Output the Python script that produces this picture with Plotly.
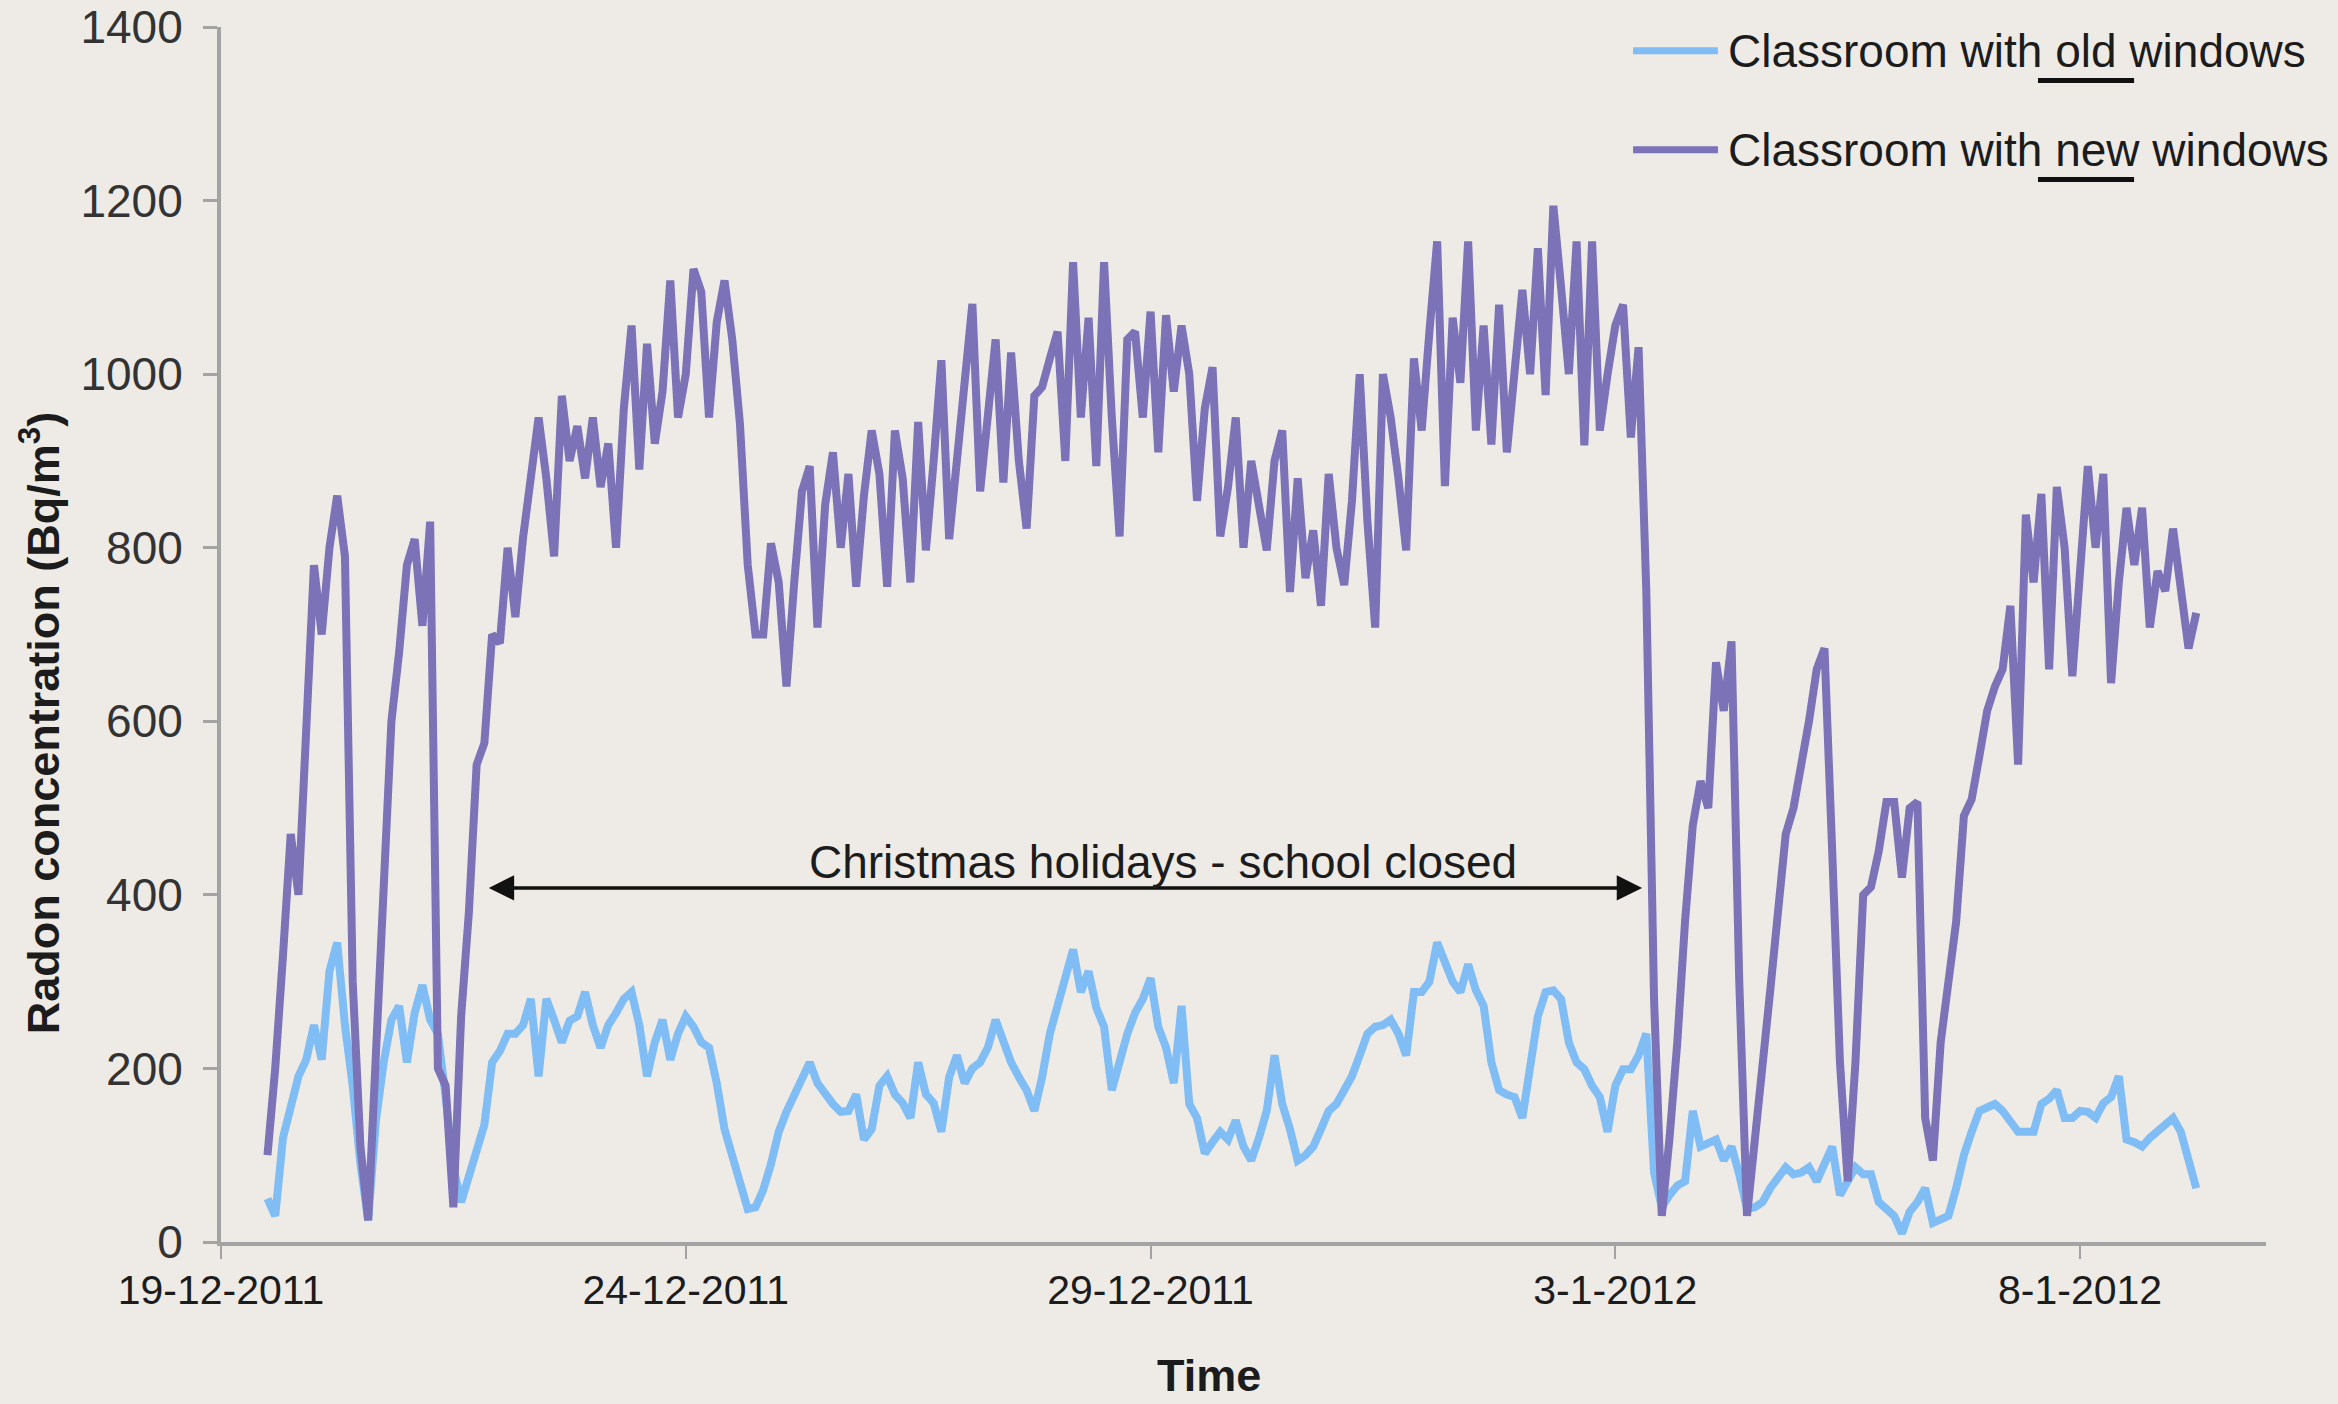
import pandas as pd
import plotly.graph_objects as go

# Radon readings every 2 hours, from 19-12-2011 12:00 to 9-1-2012 06:00 (Bq/m3)
sample_start = "2011-12-19 12:00"
sample_step = "2h"

new_windows = [
    # 19-12 (12:00-22:00)
    100, 200, 330, 470, 400, 615,
    # 20-12
    780, 700, 800, 860, 790, 300, 110, 25, 230, 430, 600, 680,
    # 21-12
    780, 810, 710, 830, 200, 180, 40, 260, 380, 550, 575, 700,
    # 22-12
    690, 800, 720, 812, 880, 950, 880, 790, 975, 900, 940, 880,
    # 23-12
    950, 870, 920, 800, 960, 1056, 890, 1035, 920, 980, 1108, 950,
    # 24-12
    1000, 1121, 1095, 950, 1060, 1108, 1040, 942, 780, 700, 700, 805,
    # 25-12
    760, 640, 760, 865, 894, 708, 850, 910, 800, 885, 755, 860,
    # 26-12
    935, 885, 755, 935, 880, 760, 945, 797, 900, 1016, 810, 900,
    # 27-12
    992, 1081, 865, 960, 1040, 875, 1025, 900, 822, 975, 985, 1018,
    # 28-12
    1049, 900, 1129, 950, 1065, 894, 1129, 950, 813, 1040, 1049, 950,
    # 29-12
    1072, 910, 1068, 980, 1056, 1000, 854, 960, 1008, 813, 870, 950,
    # 30-12
    800, 900, 850, 797, 900, 935, 749, 880, 765, 820, 733, 885,
    # 31-12
    800, 757, 854, 1000, 830, 708, 1000, 950, 880, 797, 1018, 935,
    # 1-1
    1049, 1153, 871, 1065, 990, 1153, 935, 1056, 919, 1080, 910, 1000,
    # 2-1
    1097, 1000, 1145, 976, 1194, 1100, 1000, 1153, 918, 1153, 935, 1000,
    # 3-1
    1056, 1080, 927, 1031, 750, 280, 30, 120, 230, 369, 480, 531,
    # 4-1
    500, 668, 612, 692, 300, 30, 110, 200, 290, 380, 470, 500,
    # 5-1
    547, 600, 660, 684, 450, 207, 70, 207, 400, 409, 450, 507,
    # 6-1
    507, 420, 500, 507, 143, 94, 230, 300, 369, 491, 510, 560,
    # 7-1
    612, 640, 660, 733, 550, 838, 760, 862, 660, 870, 800, 652,
    # 8-1
    780, 894, 800, 885, 644, 760, 846, 780, 846, 708, 773, 750,
    # 9-1 (00:00-06:00)
    822, 760, 684, 725,
]

old_windows = [
    # 19-12 (12:00-22:00)
    50, 30, 120, 155, 191, 210,
    # 20-12
    250, 210, 312, 345, 250, 180, 90, 25, 140, 207, 256, 272,
    # 21-12
    207, 264, 296, 256, 240, 167, 86, 46, 75, 100, 135, 207,
    # 22-12
    220, 240, 240, 250, 280, 191, 280, 256, 230, 255, 260, 288,
    # 23-12
    250, 224, 250, 264, 280, 288, 250, 191, 230, 256, 210, 240,
    # 24-12
    260, 248, 230, 224, 183, 130, 100, 70, 38, 40, 60, 90,
    # 25-12
    127, 150, 170, 191, 207, 183, 170, 159, 150, 151, 170, 118,
    # 26-12
    130, 180, 191, 170, 160, 143, 207, 170, 160, 127, 190, 215,
    # 27-12
    183, 200, 207, 224, 256, 230, 207, 190, 175, 151, 190, 240,
    # 28-12
    272, 300, 337, 288, 312, 270, 248, 175, 210, 240, 264, 280,
    # 29-12
    304, 248, 224, 183, 272, 159, 143, 102, 115, 127, 118, 140,
    # 30-12
    110, 94, 120, 151, 215, 159, 130, 94, 100, 110, 130, 151,
    # 31-12
    159, 175, 191, 215, 240, 248, 250, 256, 240, 215, 288, 288,
    # 1-1
    300, 345, 320, 300, 288, 320, 290, 272, 207, 175, 170, 167,
    # 2-1
    143, 207, 260, 288, 290, 280, 230, 207, 199, 180, 167, 127,
    # 3-1
    180, 199, 199, 215, 240, 80, 40, 54, 65, 70, 151, 110,
    # 4-1
    115, 118, 94, 110, 78, 38, 40, 46, 62, 75, 86, 78,
    # 5-1
    80, 86, 70, 90, 110, 54, 70, 86, 78, 78, 46, 38,
    # 6-1
    30, 10, 35, 46, 62, 22, 26, 30, 62, 100, 127, 151,
    # 7-1
    155, 159, 151, 140, 127, 127, 127, 159, 165, 175, 143, 143,
    # 8-1
    151, 150, 143, 160, 167, 191, 118, 115, 110, 120, 127, 135,
    # 9-1 (00:00-06:00)
    143, 127, 94, 62,
]

series_names = ["Classroom with old windows", "Classroom with new windows"]

tick_dates = ["2011-12-19", "2011-12-24", "2011-12-29", "2012-01-03", "2012-01-08"]
tick_labels = ["19-12-2011", "24-12-2011", "29-12-2011", "3-1-2012", "8-1-2012"]

holiday_start = "2011-12-21 20:45"
holiday_end = "2012-01-03 06:55"
holiday_level = 408
holiday_label = "Christmas holidays - school closed"

times = pd.date_range(sample_start, periods=len(new_windows), freq=sample_step)

BG = "#eeebe7"
OLD_COLOR = "#80bdf5"
NEW_COLOR = "#7b72b8"
AXIS_COLOR = "#a3a3a3"
TEXT_COLOR = "#1c1c1c"
FONT = "Liberation Sans, Arial, sans-serif"

fig = go.Figure()
fig.add_trace(go.Scatter(x=times, y=old_windows, mode="lines", name=series_names[0],
                         line=dict(color=OLD_COLOR, width=8)))
fig.add_trace(go.Scatter(x=times, y=new_windows, mode="lines", name=series_names[1],
                         line=dict(color=NEW_COLOR, width=8)))

annotations = [
    # double-headed arrow spanning the school closure
    dict(x=holiday_end, y=holiday_level, ax=holiday_start, ay=holiday_level,
         xref="x", yref="y", axref="x", ayref="y", text="", showarrow=True,
         arrowside="end+start", arrowhead=2, startarrowhead=2,
         arrowsize=1.45, startarrowsize=1.45, arrowwidth=3.5, arrowcolor="#111111"),
    dict(x="2011-12-29 03:20", y=438, xref="x", yref="y", text=holiday_label,
         showarrow=False, xanchor="center", yanchor="middle",
         font=dict(size=46, color=TEXT_COLOR, family=FONT)),
    # axis titles
    dict(x=-0.0885, y=0.427, xref="paper", yref="paper",
         text="<b>Radon concentration (Bq/m<sup>3</sup>)</b>", textangle=-90,
         showarrow=False, xanchor="center", yanchor="middle",
         font=dict(size=45, color=TEXT_COLOR, family=FONT)),
    dict(x=0.4831, y=-0.110, xref="paper", yref="paper", text="<b>Time</b>",
         showarrow=False, xanchor="center", yanchor="middle",
         font=dict(size=45, color=TEXT_COLOR, family=FONT)),
]

# legend drawn in the top-right corner with sample lines and underlined keywords
legend_rows = [0.9805, 0.8990]
legend_colors = [OLD_COLOR, NEW_COLOR]
shapes = []
for row_y, color, name in zip(legend_rows, legend_colors, series_names):
    shapes.append(dict(type="line", xref="paper", yref="paper", x0=0.6905, x1=0.7320,
                       y0=row_y, y1=row_y, line=dict(color=color, width=7)))
    annotations.append(dict(x=0.7359, y=row_y, xref="paper", yref="paper", text=name,
                            showarrow=False, xanchor="left", yanchor="middle",
                            font=dict(size=46, color=TEXT_COLOR, family=FONT)))
    shapes.append(dict(type="line", xref="paper", yref="paper", x0=0.8885, x1=0.9355,
                       y0=row_y - 0.0245, y1=row_y - 0.0245,
                       line=dict(color="#111111", width=5)))

fig.update_layout(
    width=2338, height=1404,
    margin=dict(l=221, r=72, t=27, b=162),
    paper_bgcolor=BG, plot_bgcolor=BG,
    showlegend=False,
    font=dict(family=FONT, color=TEXT_COLOR),
    annotations=annotations,
    shapes=shapes,
    xaxis=dict(
        type="date", range=["2011-12-19", "2012-01-10"],
        tickvals=tick_dates, ticktext=tick_labels,
        ticks="outside", ticklen=13, tickwidth=2, tickcolor=AXIS_COLOR,
        showline=True, linecolor=AXIS_COLOR, linewidth=4,
        showgrid=False, zeroline=False, automargin=False,
        tickfont=dict(size=41, color=TEXT_COLOR, family=FONT),
        ticklabelstandoff=-4,
    ),
    yaxis=dict(
        range=[0, 1400], tick0=0, dtick=200,
        ticks="outside", ticklen=14, tickwidth=3, tickcolor=AXIS_COLOR,
        showline=True, linecolor=AXIS_COLOR, linewidth=4,
        showgrid=False, zeroline=False, automargin=False,
        tickfont=dict(size=46, color="#333333", family=FONT),
        ticklabelstandoff=11,
    ),
)

fig.write_html("out.html")
